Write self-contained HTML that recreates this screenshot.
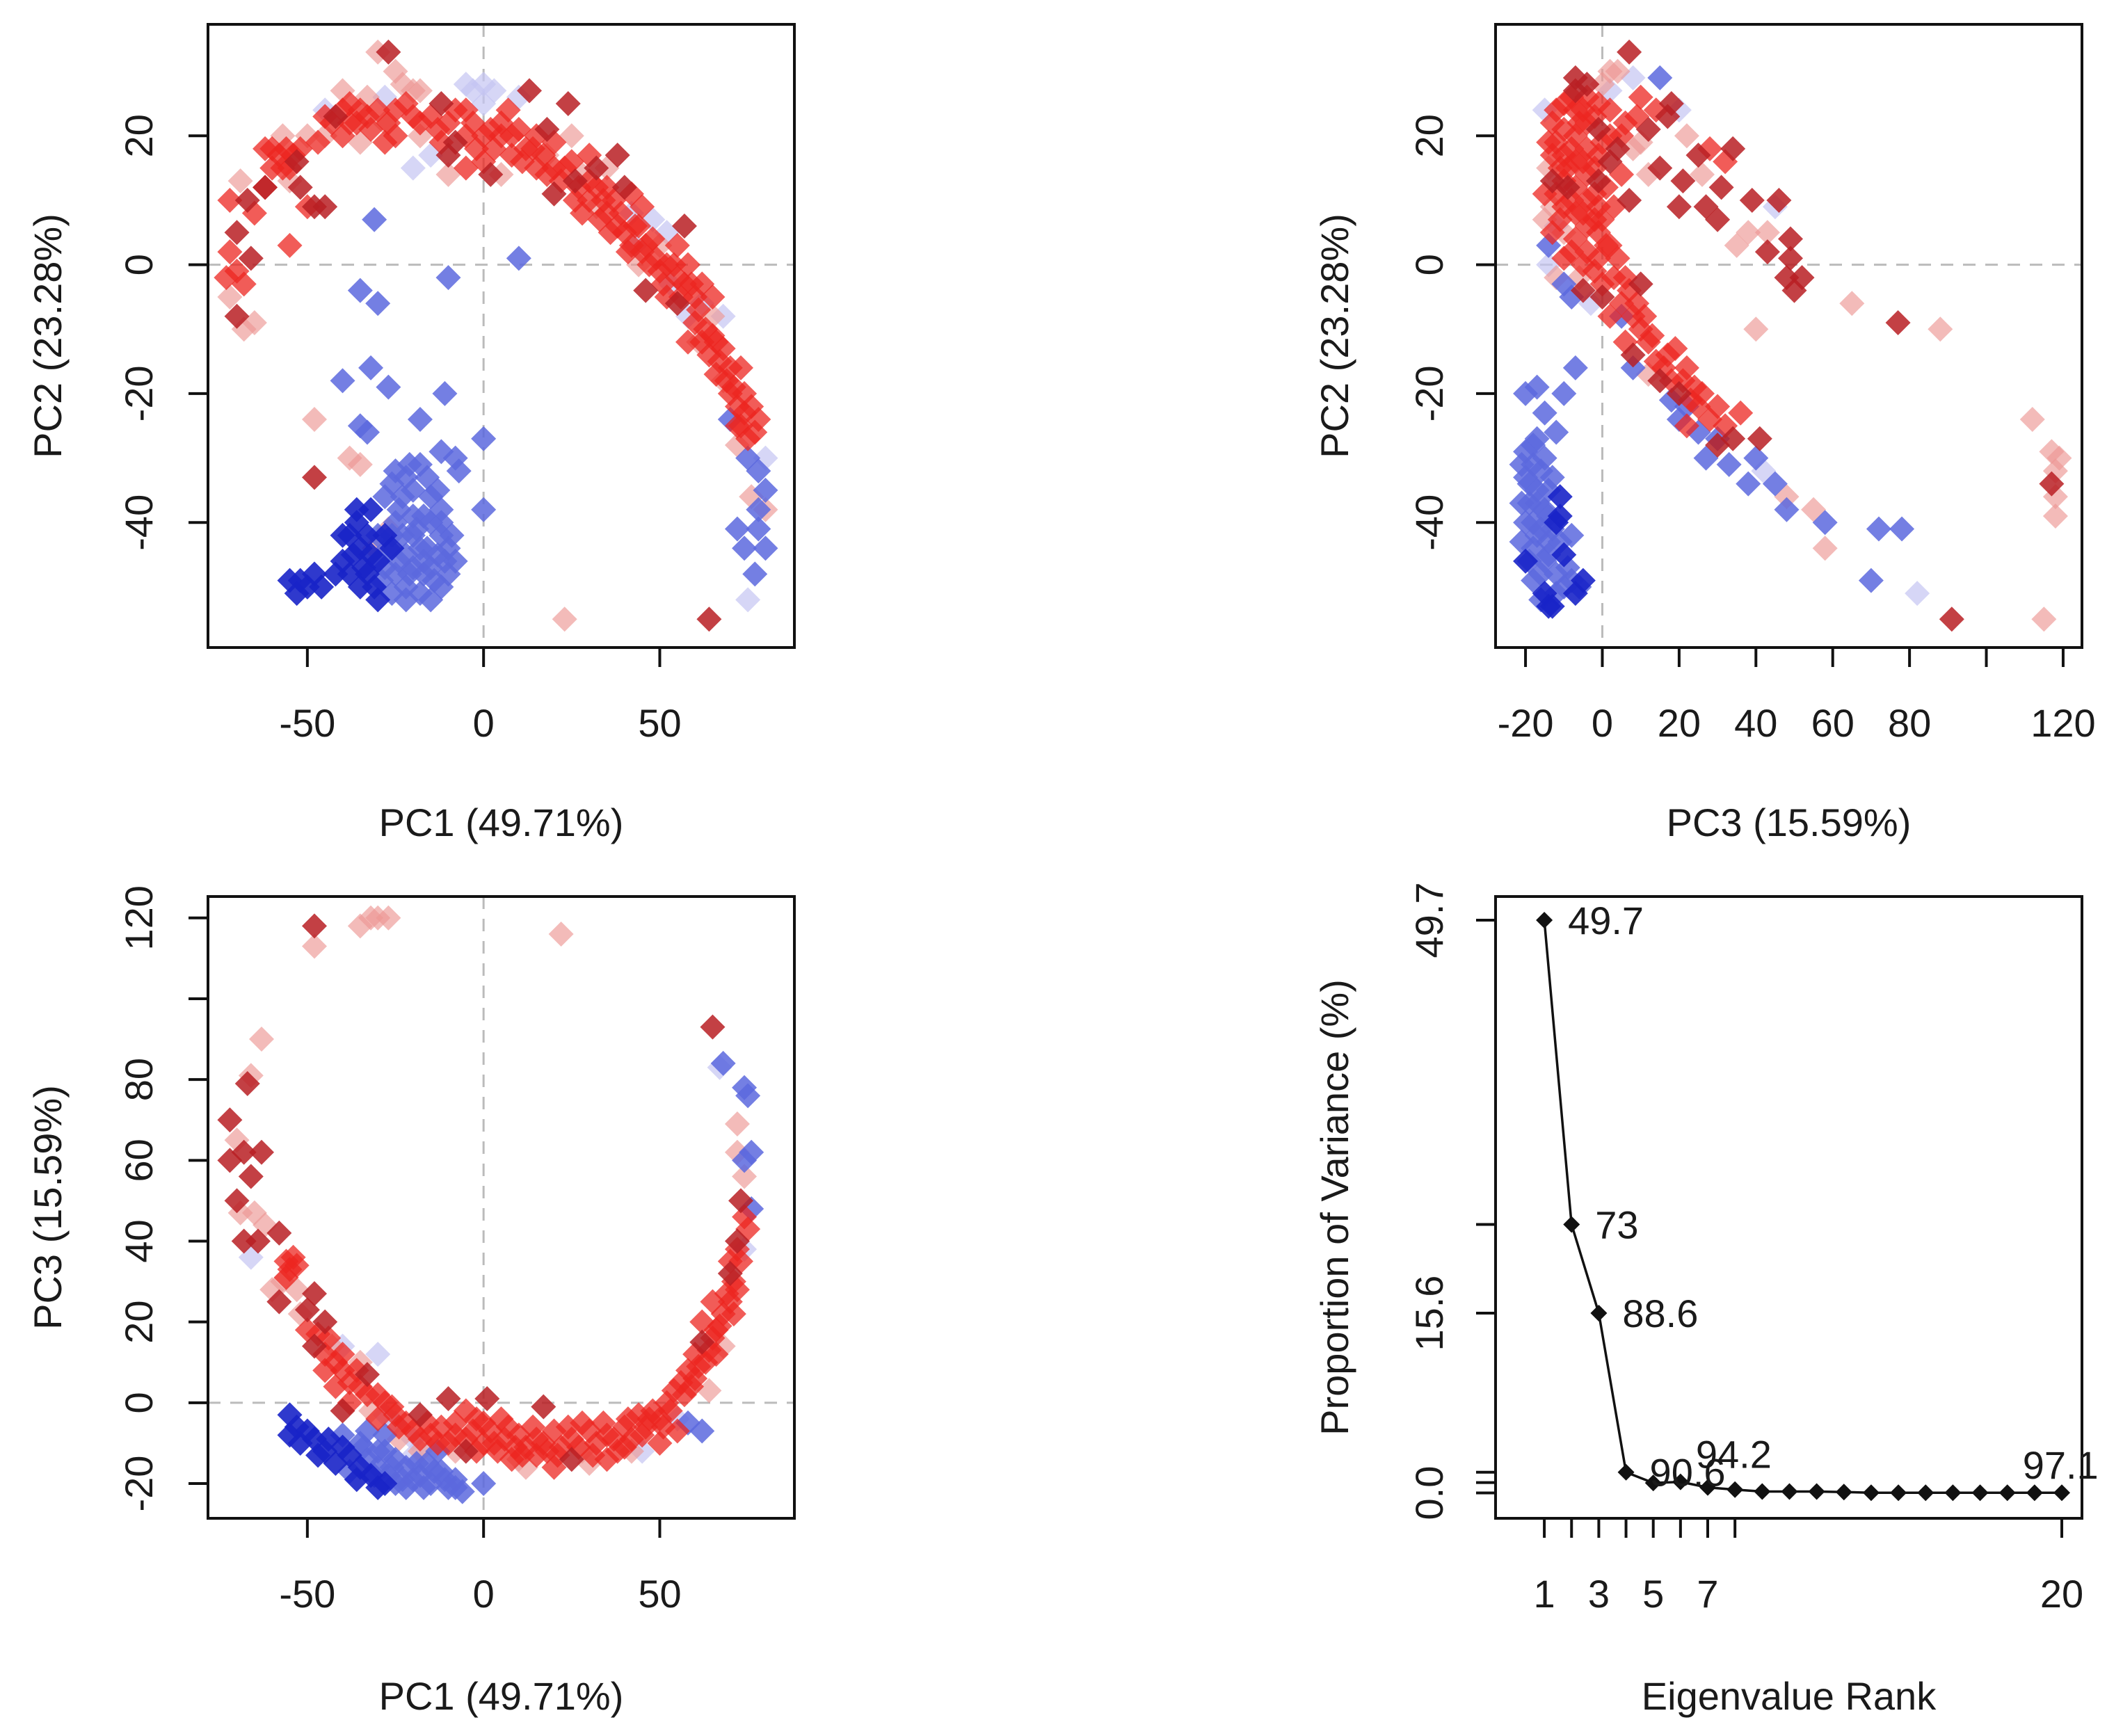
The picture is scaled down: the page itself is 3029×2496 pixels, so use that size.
<!DOCTYPE html>
<html><head><meta charset="utf-8"><style>
html,body{margin:0;padding:0;background:#fff;}
svg{display:block;}
text{font-family:"Liberation Sans",Arial,sans-serif;fill:#1a1a1a;}
</style></head><body>
<svg id="fig" xmlns="http://www.w3.org/2000/svg" width="3029" height="2496" viewBox="0 0 3029 2496">
<rect width="3029" height="2496" fill="#fff"/>
</svg>
<script>
// ---------- Panel A: PC1 vs PC2 ----------
const tlDark=[[-70,-8],[-70,5],[-67,10],[-66,1],[-53,16],[-52,12],[-48,9],[-45,9],[-27,33],[-12,25],[-10,17],[2,14],[13,27],[18,21],[20,11],[24,25],[32,15],[38,17],[40,12],[46,-4],[55,-6],[57,6],[64,-55],[-48,-33],[-42,23],[-8,19],[26,13],[-62,12]];
const tlRed=[[-73,-2],[-72,2],[-72,10],[-65,8],[-62,12],[-60,15],[-58,17],[-56,18],[-55,15],[-50,9],[-45,23],[-43,22],[-40,24],[-38,25],[-36,22],[-35,24],[-32,21],[-30,24],[-25,20],[-22,25],[-20,23],[-15,23],[-10,22],[-8,24],[-5,20],[-3,22],[3,18],[5,20],[7,24],[10,21],[12,18],[15,15],[17,17],[20,15],[22,13],[25,16],[27,12],[30,10],[32,12],[33,7],[35,8],[37,10],[38,6],[40,5],[44,6],[45,2],[47,0],[48,4],[50,-1],[52,0],[55,-2],[57,-3],[60,-5],[60,-9],[63,-10],[64,-14],[66,-17],[68,-13],[70,-20],[72,-22],[73,-16],[73,-25],[75,-27],[76,-22],[78,-24],[-60,18],[-40,20],[-25,24],[-5,24],[-5,15],[0,20],[0,16],[8,17],[15,20],[30,17],[35,12],[42,11],[45,9],[55,3],[58,0],[62,-3],[65,-5],[66,-12],[70,-16],[74,-20],[-55,3],[-47,19],[-28,19],[-12,19],[5,22],[20,19],[28,8],[42,3],[52,-5],[58,-12],[-62,18],[-52,18],[-57,15],[-54,17],[-38,22],[-33,23],[-27,22],[-18,22],[-13,21],[-2,18],[2,21],[8,20],[11,16],[14,18],[18,14],[23,15],[26,10],[30,13],[34,10],[36,5],[39,8],[41,2],[43,6],[46,3],[49,1],[51,-3],[54,0],[56,-5],[59,-3],[61,-7],[62,-12],[65,-11],[67,-15],[69,-18],[71,-19],[72,-25],[74,-23],[77,-26],[-68,-3],[-70,-1]];
const tlPink=[[-72,-5],[-68,-10],[-69,13],[-57,20],[-50,20],[-33,26],[-28,22],[-30,33],[-25,30],[-23,28],[-18,27],[-18,20],[28,14],[35,15],[50,3],[61,-12],[65,-8],[68,-18],[76,-36],[80,-38],[23,-55],[-55,13],[-35,19],[25,20],[72,-28],[-65,-9],[-48,-24],[-38,-30],[-35,-31],[-27,-41],[-31,-44],[-45,20],[-20,27],[5,14],[18,17],[32,9],[44,0],[-10,14],[-40,27]];
const tlLight=[[-28,26],[-15,17],[-20,15],[0,25],[0,28],[10,26],[42,8],[43,3],[53,-3],[58,-8],[62,-6],[80,-30],[75,-52],[48,7],[52,5],[68,-8],[-5,28],[-3,27],[3,27],[-45,24]];
const tlBlue=[[70,-24],[75,-30],[78,-32],[80,-35],[78,-41],[72,-41],[80,-44],[77,-48],[-31,7],[-35,-4],[-30,-6],[-10,-2],[10,1],[-32,-16],[-40,-18],[-27,-19],[-11,-20],[-18,-24],[-35,-25],[-33,-26],[-12,-29],[-8,-30],[-7,-32],[0,-27],[0,-38],[-25,-32],[-22,-33],[-20,-35],[-18,-31],[-15,-36],[-15,-40],[-12,-42],[-10,-44],[-10,-48],[-12,-50],[-15,-47],[-18,-44],[-20,-42],[-22,-45],[-25,-48],[-22,-50],[-18,-51],[-15,-52],[-20,-47],[-25,-40],[-28,-36],[-28,-47],[-24,-38],[-17,-39],[-12,-38],[-30,-42],[-26,-51],[-13,-45],[-20,-39],[-23,-42],[-17,-48],[-8,-46],[-27,-44],[-24,-46],[-21,-48],[-16,-44],[-14,-49],[-11,-46],[-19,-41],[-23,-36],[-26,-34],[-21,-31],[-16,-33],[-13,-35],[-9,-42],[-29,-49],[-22,-52],[-17,-46],[-12,-40],[-26,-42],[78,-38],[74,-44]];
const tlNavy=[[-55,-49],[-52,-49],[-50,-50],[-48,-48],[-46,-50],[-40,-46],[-38,-42],[-36,-40],[-35,-44],[-33,-48],[-30,-52],[-30,-46],[-28,-42],[-32,-38],[-38,-48],[-35,-50],[-26,-44],[-33,-42],[-37,-45],[-34,-47],[-31,-50],[-36,-38],[-40,-42],[-42,-48],[-53,-51],[-32,-45]];

// ---------- Panel B: PC3 vs PC2 ----------
const trDark=[[-13,13],[-7,27],[-1,21],[-1,13],[2,16],[-5,-4],[0,-5],[10,-3],[7,33],[-4,28],[-7,29],[12,21],[15,15],[18,25],[17,23],[21,13],[25,17],[34,18],[31,12],[27,9],[20,9],[7,10],[30,7],[39,10],[46,10],[43,2],[49,4],[49,1],[48,-2],[52,-2],[50,-4],[77,-9],[8,-14],[15,-18],[20,-20],[34,-27],[30,-28],[41,-27],[91,-55],[117,-34],[-9,12],[4,18]];
const trRed=[[-13,22],[-13,17],[-10,25],[-10,21],[-10,17],[-10,13],[-10,9],[-7,24],[-7,20],[-7,16],[-7,12],[-7,8],[-7,4],[-4,26],[-4,22],[-4,18],[-4,14],[-4,10],[-4,6],[-4,2],[-1,25],[-1,17],[-1,9],[-1,5],[-1,1],[2,24],[2,20],[2,3],[-15,11],[0,-3],[3,-2],[5,-6],[7,-4],[8,-8],[14,24],[10,26],[5,20],[5,14],[28,18],[32,16],[6,-12],[10,-10],[12,-12],[14,-15],[17,-14],[18,-18],[22,-16],[24,-19],[25,-22],[28,-24],[30,-22],[32,-25],[22,-25],[36,-23],[-12,19],[-9,15],[-12,11],[-6,22],[-2,11],[0,7],[3,9],[-10,1],[2,-8],[-12,24],[-8,26],[-5,24],[-2,23],[0,19],[-11,15],[-8,18],[-5,16],[-2,15],[1,12],[-11,7],[-8,10],[-5,8],[-2,7],[1,3],[-8,2],[-5,0],[-2,-1],[4,1],[6,-2],[9,-6],[11,-8],[13,-11],[16,-16],[19,-13],[21,-18],[23,-21],[26,-20],[6,22],[9,23],[-14,19],[-13,5]];
const trPink=[[-13,9],[-14,15],[-10,5],[-12,-2],[4,30],[2,30],[12,14],[22,20],[8,18],[43,5],[35,3],[65,-6],[88,-10],[40,-10],[38,5],[12,-17],[48,-36],[58,-44],[55,-38],[115,-55],[112,-24],[117,-29],[119,-30],[118,-36],[118,-39],[0,28],[-15,7],[-6,-2],[10,19],[26,14],[118,-32]];
const trLight=[[-15,24],[-12,6],[8,29],[20,24],[45,9],[42,-32],[82,-51],[-3,-6],[-14,0],[2,27]];
const trBlue=[[-14,3],[-8,-5],[15,29],[5,-8],[8,-16],[18,-21],[20,-24],[25,-26],[27,-30],[33,-31],[40,-30],[45,-34],[38,-34],[48,-38],[58,-40],[72,-41],[78,-41],[70,-49],[-20,-20],[-17,-19],[-10,-20],[-7,-16],[-15,-23],[-12,-26],[-20,-29],[-18,-31],[-15,-30],[-20,-33],[-17,-35],[-13,-33],[-19,-37],[-15,-38],[-20,-40],[-16,-41],[-8,-42],[-18,-44],[-14,-45],[-16,-48],[-12,-48],[-8,-49],[-12,-51],[-18,-49],[-21,-43],[-17,-27],[-14,-43],[-18,-40],[-14,-35],[-19,-34],[-16,-32],[-18,-28],[-21,-31],[-17,-42],[-13,-41],[-19,-46],[-15,-46],[-11,-43],[-10,-50],[-16,-52],[-14,-39],[-21,-37],[-6,-50],[-9,-47],[-17,-37],[22,-22],[30,-27],[-10,-3]];
const trNavy=[[-11,-36],[-12,-40],[-10,-45],[-20,-46],[-5,-49],[-15,-51],[-13,-53],[-11,-39],[-14,-53],[-7,-51]];

// ---------- Panel C: PC1 vs PC3 ----------
const blDark=[[-48,118],[-67,79],[-72,70],[-72,60],[-68,62],[-63,62],[-66,56],[-70,50],[-68,40],[-64,40],[-58,42],[-58,25],[-48,27],[-50,23],[-45,20],[-48,14],[-33,7],[-18,-3],[62,15],[72,40],[73,50],[65,93],[1,1],[-10,1],[17,-1],[-40,-2],[-5,-12],[25,-14],[70,32]];
const blRed=[[-56,35],[-55,33],[-47,17],[-45,12],[-42,10],[-40,8],[-38,5],[-35,4],[-30,2],[-28,0],[-25,-3],[-45,8],[-38,0],[-22,-5],[-20,-7],[-15,-8],[-12,-6],[-10,-10],[-8,-5],[-5,-9],[-3,-7],[0,-10],[2,-7],[4,-12],[6,-9],[8,-14],[10,-8],[12,-11],[15,-9],[18,-12],[20,-7],[22,-11],[25,-9],[30,-7],[32,-10],[35,-8],[38,-12],[40,-6],[42,-9],[44,-3],[46,-6],[48,-2],[50,-4],[52,0],[54,3],[56,5],[58,8],[60,12],[60,6],[63,10],[65,16],[66,12],[67,19],[68,22],[70,25],[71,30],[72,28],[73,35],[75,43],[-5,-2],[35,-14],[20,-16],[0,-5],[50,-10],[55,-7],[65,25],[-54,36],[-42,4],[-30,-4],[-18,-9],[5,-4],[15,-13],[28,-5],[40,-11],[62,20],[70,35],[-56,31],[-53,34],[-50,18],[-44,16],[-40,12],[-36,8],[-33,2],[-26,-1],[-24,-6],[-16,-5],[-13,-10],[-8,-8],[-2,-12],[3,-10],[7,-6],[11,-13],[14,-6],[17,-10],[21,-13],[24,-6],[27,-11],[31,-13],[34,-5],[37,-9],[41,-4],[45,-8],[47,-4],[51,-6],[53,-2],[57,2],[59,4],[61,9],[64,13],[66,18],[69,27],[71,22],[72,38],[74,46],[-2,-4],[9,-11]];
const blPink=[[-48,113],[-35,118],[-32,120],[-30,120],[-27,120],[22,116],[-63,90],[-66,81],[-70,65],[-69,47],[-65,47],[-57,30],[-60,28],[-53,28],[-52,22],[-35,10],[-32,-2],[-8,-12],[28,-12],[64,3],[74,56],[72,62],[72,69],[10,-14],[-18,-12],[30,-15],[-62,44],[-43,14],[-24,-9],[42,-12],[12,-16],[68,14]];
const blLight=[[-66,36],[-40,14],[-30,12],[45,-12],[55,-4],[74,38],[67,83],[-28,-3],[-20,-13],[-20,-9],[-25,-5],[-15,-12]];
const blBlue=[[76,48],[74,60],[75,76],[74,78],[68,84],[58,-5],[62,-7],[-40,-8],[-35,-10],[-33,-14],[-30,-16],[-28,-12],[-25,-14],[-22,-16],[-18,-18],[-15,-20],[-12,-17],[-10,-21],[-8,-19],[-6,-22],[-25,-20],[-28,-8],[-33,-7],[0,-20],[-38,-17],[-27,-18],[-16,-15],[-20,-19],[-13,-12],[-30,-12],[-26,-16],[-23,-19],[-19,-15],[-14,-17],[-11,-19],[-8,-21],[-22,-21],[-31,-18],[-34,-11],[-17,-21],[76,62]];
const blNavy=[[-55,-3],[-55,-8],[-52,-10],[-48,-9],[-45,-12],[-42,-15],[-38,-13],[-30,-21],[-32,-18],[-36,-19],[-50,-7],[-44,-9],[-53,-6],[-47,-13],[-40,-11],[-35,-16],[-28,-20]];

// ---------- Panel D: scree ----------
const screeRank=[1,2,3,4,5,6,7,8,9,10,11,12,13,14,15,16,17,18,19,20];
const screeVar=[49.7,23.3,15.6,1.8,0.87,0.96,0.48,0.29,0.12,0.12,0.12,0.08,0.02,0.02,0.02,0.02,0.02,0.02,0.02,0.02];
const cumRank=[1,2,3,4,6,18];
const cumLabels=["49.7","73","88.6","90.6","94.2","97.1"];
const screeYTicks=[49.7,23.3,15.6,1.8,0.9,0];
const screeYLabels=[[49.7,"49.7"],[15.6,"15.6"],[0,"0.0"]];
const screeXTicks=[1,2,3,4,5,6,7,8,20];
const screeXLabels=[1,3,5,7,20];

const pc1Ticks=[-50,0,50];
const pc2Ticks=[-40,-20,0,20];
const pc3Ticks=[-20,0,20,40,60,80,100,120];
const pc3Labels=[-20,0,20,40,60,80,120];

const NS="http://www.w3.org/2000/svg";
const svg=document.getElementById('fig');
function el(tag,attrs,parent){const e=document.createElementNS(NS,tag);for(const k in attrs)e.setAttribute(k,attrs[k]);(parent||svg).appendChild(e);return e;}
function scale(d0,d1,p0,p1){return v=>p0+(v-d0)/(d1-d0)*(p1-p0);}
const COL={dark:'rgba(185,30,35,0.85)',red:'rgba(236,38,32,0.75)',pink:'rgba(236,150,148,0.65)',light:'rgba(196,196,242,0.7)',blue:'rgba(92,104,222,0.85)',navy:'rgba(24,36,200,0.9)'};

function panel(name,box,xd,yd){
  const g=el('g',{});
  
  
  return {g,box,x:scale(xd[0],xd[1],box[0],box[2]),y:scale(yd[0],yd[1],box[3],box[1])};
}
function frame(p){
  const r=el('rect',{x:p.box[0],y:p.box[1],width:p.box[2]-p.box[0],height:p.box[3]-p.box[1],fill:'none',stroke:'#111','stroke-width':4},p.g);
  
  
}
function zeroLines(p){
  const v=el('line',{x1:p.x(0),x2:p.x(0),y1:p.box[1],y2:p.box[3],stroke:'#bbb','stroke-width':3,'stroke-dasharray':'18,14'},p.g);
  
  
  const h=el('line',{x1:p.box[0],x2:p.box[2],y1:p.y(0),y2:p.y(0),stroke:'#bbb','stroke-width':3,'stroke-dasharray':'18,14'},p.g);
  
  
}
function xAxis(p,ticks,labels,lblY,title,titleY){
  ticks.forEach(t=>{const l=el('line',{x1:p.x(t),x2:p.x(t),y1:p.box[3],y2:p.box[3]+28,stroke:'#111','stroke-width':4},p.g);
    
    });
  labels.forEach(t=>{const tx=el('text',{x:p.x(t),y:lblY,'font-size':56,'text-anchor':'middle'},p.g);tx.textContent=String(t);
    
    });
  const tt=el('text',{x:(p.box[0]+p.box[2])/2,y:titleY,'font-size':56,'text-anchor':'middle'},p.g);tt.textContent=title;
  
  
}
function yAxis(p,ticks,labels,lblX,title,titleX){
  ticks.forEach(t=>{const l=el('line',{x1:p.box[0]-28,x2:p.box[0],y1:p.y(t),y2:p.y(t),stroke:'#111','stroke-width':4},p.g);
    
    });
  labels.forEach(t=>{const v=Array.isArray(t)?t[0]:t,s=Array.isArray(t)?t[1]:String(t);
    const tx=el('text',{transform:`translate(${lblX},${p.y(v)}) rotate(-90)`,'font-size':56,'text-anchor':'middle'},p.g);tx.textContent=s;
    
    });
  const tt=el('text',{transform:`translate(${titleX},${(p.box[1]+p.box[3])/2}) rotate(-90)`,'font-size':56,'text-anchor':'middle'},p.g);tt.textContent=title;
  
  
}
function diamond(p,x,y,h,fill,parent){
  const cx=p.x(x),cy=p.y(y);
  return el('polygon',{points:`${cx},${cy-h} ${cx+h},${cy} ${cx},${cy+h} ${cx-h},${cy}`,fill:fill},parent);
}
function scatter(p,groups){
  const clip='clip-'+Math.round(p.box[0])+'-'+Math.round(p.box[1]);
  const cp=el('clipPath',{id:clip},p.g);el('rect',{x:p.box[0],y:p.box[1],width:p.box[2]-p.box[0],height:p.box[3]-p.box[1]},cp);
  const layer=el('g',{'clip-path':`url(#${clip})`},p.g);
  groups.forEach(([arr,key])=>{arr.forEach(([x,y])=>{
    const d=diamond(p,x,y,18,COL[key],layer);
    
    
  });});
}

// Panel A
const A=panel('pc1-pc2-scatter',[299,35,1142,931],[-78.2,88.2],[-59.4,37.3]);
zeroLines(A);
scatter(A,[[tlLight,'light'],[tlPink,'pink'],[tlBlue,'blue'],[tlNavy,'navy'],[tlRed,'red'],[tlDark,'dark']]);
frame(A);
xAxis(A,pc1Ticks,pc1Ticks,1059,'PC1 (49.71%)',1202);
yAxis(A,pc2Ticks,pc2Ticks,219,'PC2 (23.28%)',88);

// Panel B
const B=panel('pc3-pc2-scatter',[2150,35,2993,931],[-27.8,124.9],[-59.4,37.3]);
zeroLines(B);
scatter(B,[[trLight,'light'],[trPink,'pink'],[trBlue,'blue'],[trNavy,'navy'],[trRed,'red'],[trDark,'dark']]);
frame(B);
xAxis(B,pc3Ticks,pc3Labels,1059,'PC3 (15.59%)',1202);
yAxis(B,pc2Ticks,pc2Ticks,2074,'PC2 (23.28%)',1938);

// Panel C
const C=panel('pc1-pc3-scatter',[299,1289,1142,2183],[-78.2,88.2],[-28.6,125.3]);
zeroLines(C);
scatter(C,[[blLight,'light'],[blPink,'pink'],[blBlue,'blue'],[blNavy,'navy'],[blRed,'red'],[blDark,'dark']]);
frame(C);
xAxis(C,pc1Ticks,pc1Ticks,2311,'PC1 (49.71%)',2458);
yAxis(C,pc3Ticks,[-20,0,20,40,60,80,120],219,'PC3 (15.59%)',88);

// Panel D
const D=panel('scree-plot',[2150,1289,2993,2183],[-0.79,20.74],[-2.2,51.75]);
frame(D);
xAxis(D,screeXTicks,screeXLabels,2311,'Eigenvalue Rank',2458);
yAxis(D,screeYTicks,screeYLabels,2074,'Proportion of Variance (%)',1938);
const pts=screeRank.map((r,i)=>[D.x(r),D.y(screeVar[i])]);
const line=el('polyline',{points:pts.map(p=>p.join(',')).join(' '),fill:'none',stroke:'#111','stroke-width':3.5},D.g);


screeRank.forEach((r,i)=>{
  const d=diamond(D,r,screeVar[i],12,'#111',D.g);
  
  
});
cumRank.forEach((r,i)=>{
  const above=i>=4;
  const tx=el('text',{x:D.x(r)+(above?22:34),y:D.y(screeVar[r-1])+(above?-20:20),'font-size':56},D.g);
  tx.textContent=cumLabels[i];
  
  
});
</script>
</body></html>
